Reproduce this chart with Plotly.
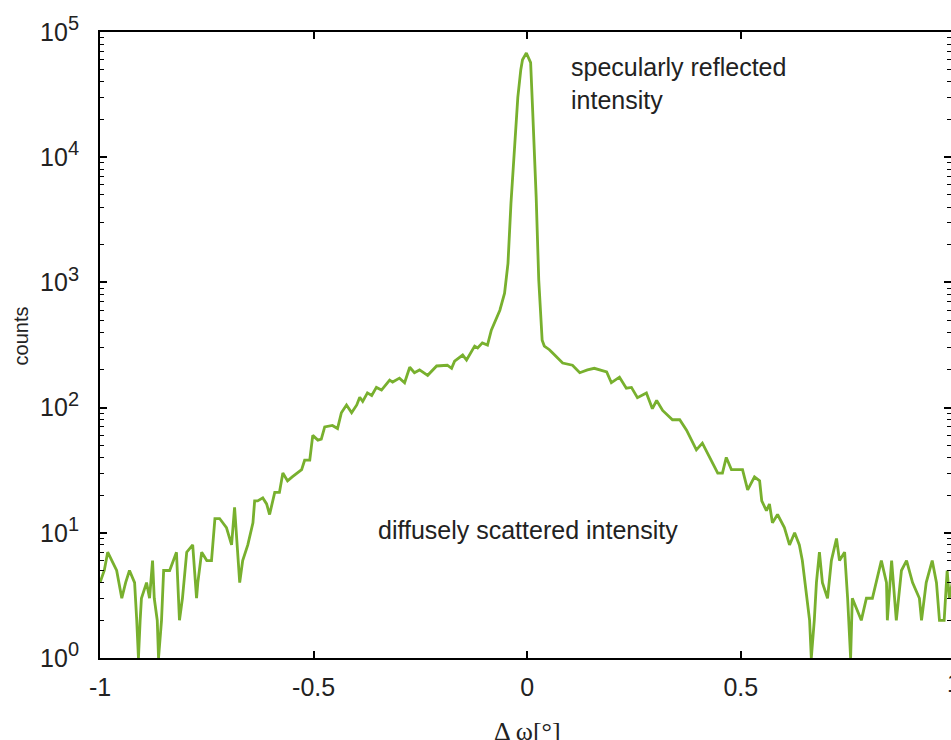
import plotly.graph_objects as go

# Δω [°] positions and counts
delta_omega = [
    -1.000, -0.990, -0.982, -0.972, -0.961, -0.949, -0.940, -0.931, -0.919, -0.914,
    -0.910, -0.906, -0.903, -0.891, -0.884, -0.877, -0.873, -0.866, -0.863, -0.856,
    -0.851, -0.837, -0.821, -0.814, -0.807, -0.797, -0.783, -0.774, -0.771, -0.762,
    -0.750, -0.739, -0.731, -0.720, -0.704, -0.692, -0.685, -0.680, -0.673, -0.666,
    -0.654, -0.642, -0.638, -0.631, -0.619, -0.610, -0.603, -0.591, -0.580, -0.572,
    -0.561, -0.550, -0.540, -0.528, -0.521, -0.509, -0.502, -0.490, -0.482, -0.474,
    -0.456, -0.444, -0.435, -0.423, -0.411, -0.399, -0.392, -0.385, -0.374, -0.364,
    -0.353, -0.341, -0.322, -0.315, -0.299, -0.287, -0.275, -0.264, -0.252, -0.233,
    -0.212, -0.187, -0.177, -0.170, -0.151, -0.142, -0.123, -0.116, -0.105, -0.093,
    -0.084, -0.064, -0.053, -0.045, -0.038, -0.030, -0.022, -0.015, -0.011, -0.002,
    0.004, 0.008, 0.013, 0.021, 0.027, 0.035, 0.040, 0.052, 0.059, 0.083,
    0.106, 0.123, 0.141, 0.157, 0.186, 0.197, 0.216, 0.232, 0.244, 0.258,
    0.279, 0.293, 0.303, 0.317, 0.340, 0.357, 0.373, 0.396, 0.410, 0.431,
    0.446, 0.457, 0.466, 0.478, 0.504, 0.516, 0.532, 0.544, 0.549, 0.560,
    0.567, 0.574, 0.586, 0.602, 0.614, 0.626, 0.637, 0.644, 0.654, 0.661,
    0.665, 0.672, 0.677, 0.684, 0.691, 0.703, 0.712, 0.724, 0.731, 0.743,
    0.750, 0.757, 0.761, 0.782, 0.794, 0.808, 0.829, 0.841, 0.843, 0.853,
    0.864, 0.876, 0.888, 0.902, 0.918, 0.923, 0.934, 0.948, 0.958, 0.965,
    0.976, 0.983, 0.988, 0.995,
]
counts = [
    4, 5, 7, 6, 5, 3, 4, 5, 4, 2,
    1, 2, 3, 4, 3, 6, 3, 2, 1, 2,
    5, 5, 7, 2, 3, 7, 8, 3, 4, 7,
    6, 6, 13, 13, 11, 8, 16, 9, 4, 6,
    8, 12, 18, 18, 19, 17, 14, 21, 21, 30,
    26, 28, 30, 32, 38, 38, 60, 55, 56, 70,
    72, 68, 91, 105, 91, 105, 121, 112, 131, 125,
    145, 138, 166, 160, 172, 158, 210, 190, 200, 181,
    215, 218, 206, 235, 263, 240, 310, 300, 329, 316,
    416, 600, 820, 1420, 4300, 12000, 30000, 50000, 60000, 68000,
    60000, 57000, 22600, 4800, 1050, 345, 310, 290, 274, 227,
    218, 190, 200, 206, 193, 158, 175, 143, 145, 120,
    131, 98, 114, 95, 80, 80, 66, 46, 52, 38,
    30, 30, 40, 32, 32, 22, 28, 26, 18, 15,
    17, 12, 14, 11, 8, 10, 8, 6, 3, 2,
    1, 2, 4, 7, 4, 3, 6, 9, 6, 7,
    3, 1, 3, 2, 3, 3, 6, 4, 2, 6,
    2, 5, 6, 4, 3, 2, 4, 6, 4, 2,
    2, 5, 3, 4,
]

x_tick_vals = [-1, -0.5, 0, 0.5]
x_tick_text = ["-1", "-0.5", "0", "0.5"]
y_tick_vals = [1, 10, 100, 1000, 10000, 100000]
y_exponents = ["0", "1", "2", "3", "4", "5"]
y_tick_text = ["10<sup><span style='font-size:20px'>%s</span></sup>" % e for e in y_exponents]
y_minor_vals = [k * 10 ** e for e in range(5) for k in range(2, 10)]

LINE_COLOR = "#78b02e"
TEXT_COLOR = "#222222"
FONT = "Liberation Sans, Arial, sans-serif"

fig = go.Figure()
fig.add_trace(go.Scatter(
    x=delta_omega, y=counts, mode="lines",
    line=dict(color=LINE_COLOR, width=2.8, shape="linear"),
    showlegend=False, hoverinfo="x+y",
))

fig.update_layout(
    width=951, height=740,
    margin=dict(l=100, r=0, t=32, b=82, autoexpand=False),
    paper_bgcolor="white", plot_bgcolor="white",
    font=dict(family=FONT, size=25, color=TEXT_COLOR),
    xaxis=dict(
        range=[-1, 0.992], automargin=False,
        tickvals=x_tick_vals, ticktext=x_tick_text,
        ticks="inside", ticklen=7, tickwidth=1.5, tickcolor="black",
        showline=True, linecolor="black", linewidth=2, mirror="ticks",
        showgrid=False, zeroline=False,
        ticklabelstandoff=6,
    ),
    yaxis=dict(
        type="log", range=[0, 5], automargin=False,
        tickvals=y_tick_vals, ticktext=y_tick_text,
        ticks="inside", ticklen=7, tickwidth=1.5, tickcolor="black",
        minor=dict(tickvals=y_minor_vals, ticks="inside", ticklen=4, tickwidth=1.2, tickcolor="black"),
        showline=True, linecolor="black", linewidth=2, mirror="ticks",
        showgrid=False, zeroline=False,
        ticklabelstandoff=14,
    ),
    annotations=[
        dict(text="Δ ω[°]", x=0, y=-0.118, xref="x", yref="paper",
             xanchor="center", yanchor="middle", showarrow=False,
             font=dict(family="Liberation Serif, Times New Roman, serif", size=26)),
        dict(text="counts", x=-0.093, y=0.515, xref="paper", yref="paper",
             xanchor="center", yanchor="middle", textangle=-90, showarrow=False,
             font=dict(size=20)),
        dict(text="specularly reflected<br>intensity", x=0.097, y=0.918,
             xref="x", yref="paper", xanchor="left", yanchor="middle",
             align="left", showarrow=False, font=dict(size=25)),
        dict(text="diffusely scattered intensity", x=-0.353, y=0.205,
             xref="x", yref="paper", xanchor="left", yanchor="middle",
             align="left", showarrow=False, font=dict(size=25)),
        dict(text="1", x=1.004, y=-0.04, xref="paper", yref="paper",
             xanchor="center", yanchor="middle", showarrow=False, font=dict(size=25)),
    ],
)

fig.write_html(
    "out.html",
    config={"displayModeBar": False},
    post_script="document.body.style.margin='0';document.body.style.overflow='hidden';",
)
